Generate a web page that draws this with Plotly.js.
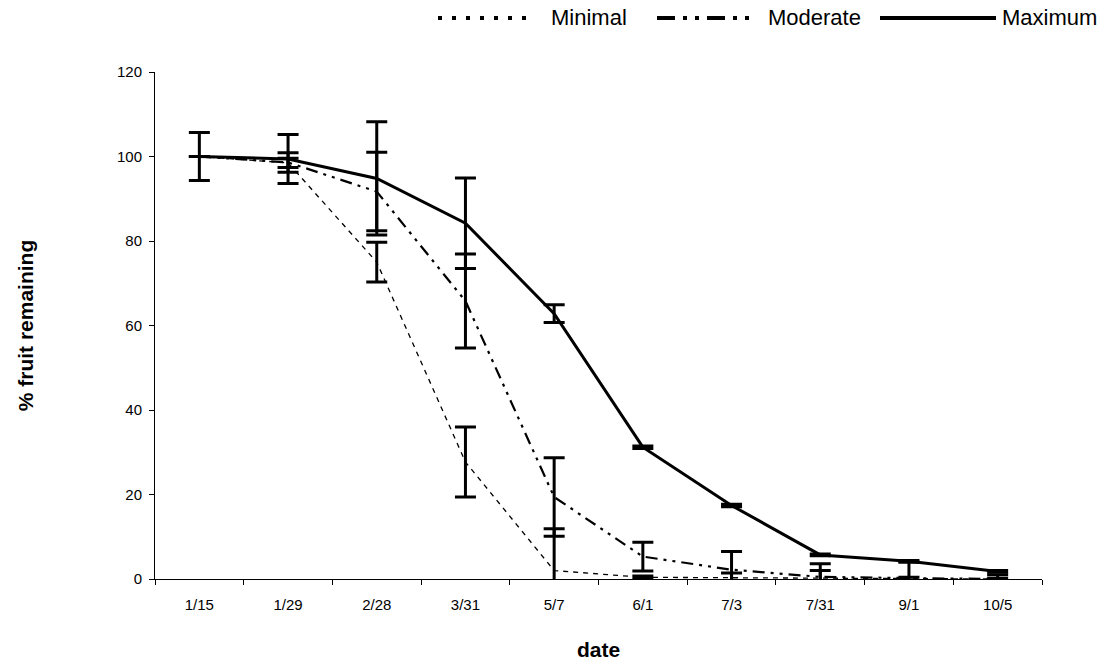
<!DOCTYPE html>
<html>
<head>
<meta charset="utf-8">
<script src="https://cdn.plot.ly/plotly-3.0.1.min.js"></script>
<style>html,body{margin:0;padding:0;background:#fff;}#chart{width:1120px;height:661px;}</style>
</head>
<body>
<div id="chart"></div>
<script>
// ---- data ----
const dates = ['1/15','1/29','2/28','3/31','5/7','6/1','7/3','7/31','9/1','10/5'];
const minimal     = [100, 98.5, 75.0, 27.7,  2.0, 0.4, 0.3, 0.2, 0.0, 0.0];
const minimalErr  = [0,    1.1,  4.7,  8.3,  9.9, 0.3, 1.1, 1.8, 0.4, 0.2];
const moderate    = [100, 98.6, 91.7, 65.8, 19.4, 5.3, 2.2, 0.5, 0.2, 0.0];
const moderateErr = [0,    2.3,  9.3, 11.1,  9.3, 3.4, 4.3, 3.1, 3.8, 1.0];
const maximum     = [100, 99.4, 94.8, 84.2, 62.8, 31.2, 17.4, 5.7, 4.2, 1.8];
const maximumErr  = [5.7,  5.8, 13.4, 10.7,  2.1, 0.3, 0.3, 0.2, 0.2, 0.2];
const seriesNames = ['Minimal','Moderate','Maximum'];

const FONT = '"Liberation Sans", Arial, Helvetica, sans-serif';
const W = 1120, H = 661;
const M = {l:155, r:78, t:72, b:82};
const PW = W - M.l - M.r, PH = H - M.t - M.b;
const px2x = p => (p - M.l) / PW;
const px2y = p => (H - M.b - p) / PH;

function err(arr){
  return {type:'data', array:arr, visible:true, color:'#000', thickness:3, width:10.5};
}

const traces = [
  {x:dates, y:minimal, name:seriesNames[0], type:'scatter', mode:'lines',
   line:{color:'#000', width:1.3, dash:'5px,5px'}, error_y:err(minimalErr), showlegend:false},
  {x:dates, y:moderate, name:seriesNames[1], type:'scatter', mode:'lines',
   line:{color:'#000', width:2.2, dash:'12px,6px,3px,6px,3px,6px'}, error_y:err(moderateErr), showlegend:false},
  {x:dates, y:maximum, name:seriesNames[2], type:'scatter', mode:'lines',
   line:{color:'#000', width:3}, error_y:err(maximumErr), showlegend:false}
];

// custom legend (long sample lines as in the reference)
const legY = px2y(18);
const legend = [
  {x0:438, x1:534, dash:'4px,10px', tx:549, name:seriesNames[0]},
  {x0:657, x1:753, dash:'18px,8px,4px,8px,4px,8px', tx:766, name:seriesNames[1]},
  {x0:880, x1:996, dash:'solid', tx:1000, name:seriesNames[2]}
];
const shapes = legend.map(l => ({type:'line', xref:'paper', yref:'paper',
  x0:px2x(l.x0), x1:px2x(l.x1), y0:legY, y1:legY,
  line:{color:'#000', width:4, dash:l.dash}}));
const annotations = legend.map(l => ({xref:'paper', yref:'paper', x:px2x(l.tx), y:legY,
  xanchor:'left', yanchor:'middle', text:l.name, showarrow:false,
  font:{family:FONT, size:22, color:'#000'}}));

const layout = {
  width:W, height:H,
  margin:M,
  paper_bgcolor:'#fff', plot_bgcolor:'#fff',
  font:{family:FONT, color:'#000'},
  showlegend:false,
  xaxis:{
    type:'category', tickson:'boundaries', ticks:'outside', ticklen:5, tickcolor:'#000',
    showline:true, linecolor:'#000', linewidth:1, showgrid:false, zeroline:false,
    tickfont:{family:FONT, size:15, color:'#000'}, ticklabelstandoff:12,
    title:{text:'<b>date</b>', font:{family:FONT, size:21, color:'#000'}, standoff:31},
    fixedrange:true
  },
  yaxis:{
    range:[0,120], dtick:20, ticks:'outside', ticklen:5, tickcolor:'#000',
    showline:true, linecolor:'#000', linewidth:1, showgrid:false, zeroline:false,
    tickfont:{family:FONT, size:15, color:'#000'}, ticklabelstandoff:4,
    title:{text:'<b>% fruit remaining</b>', font:{family:FONT, size:21, color:'#000'}, standoff:77},
    fixedrange:true
  },
  shapes:shapes,
  annotations:annotations
};

Plotly.newPlot('chart', traces, layout, {displayModeBar:false, staticPlot:true});
</script>
</body>
</html>
